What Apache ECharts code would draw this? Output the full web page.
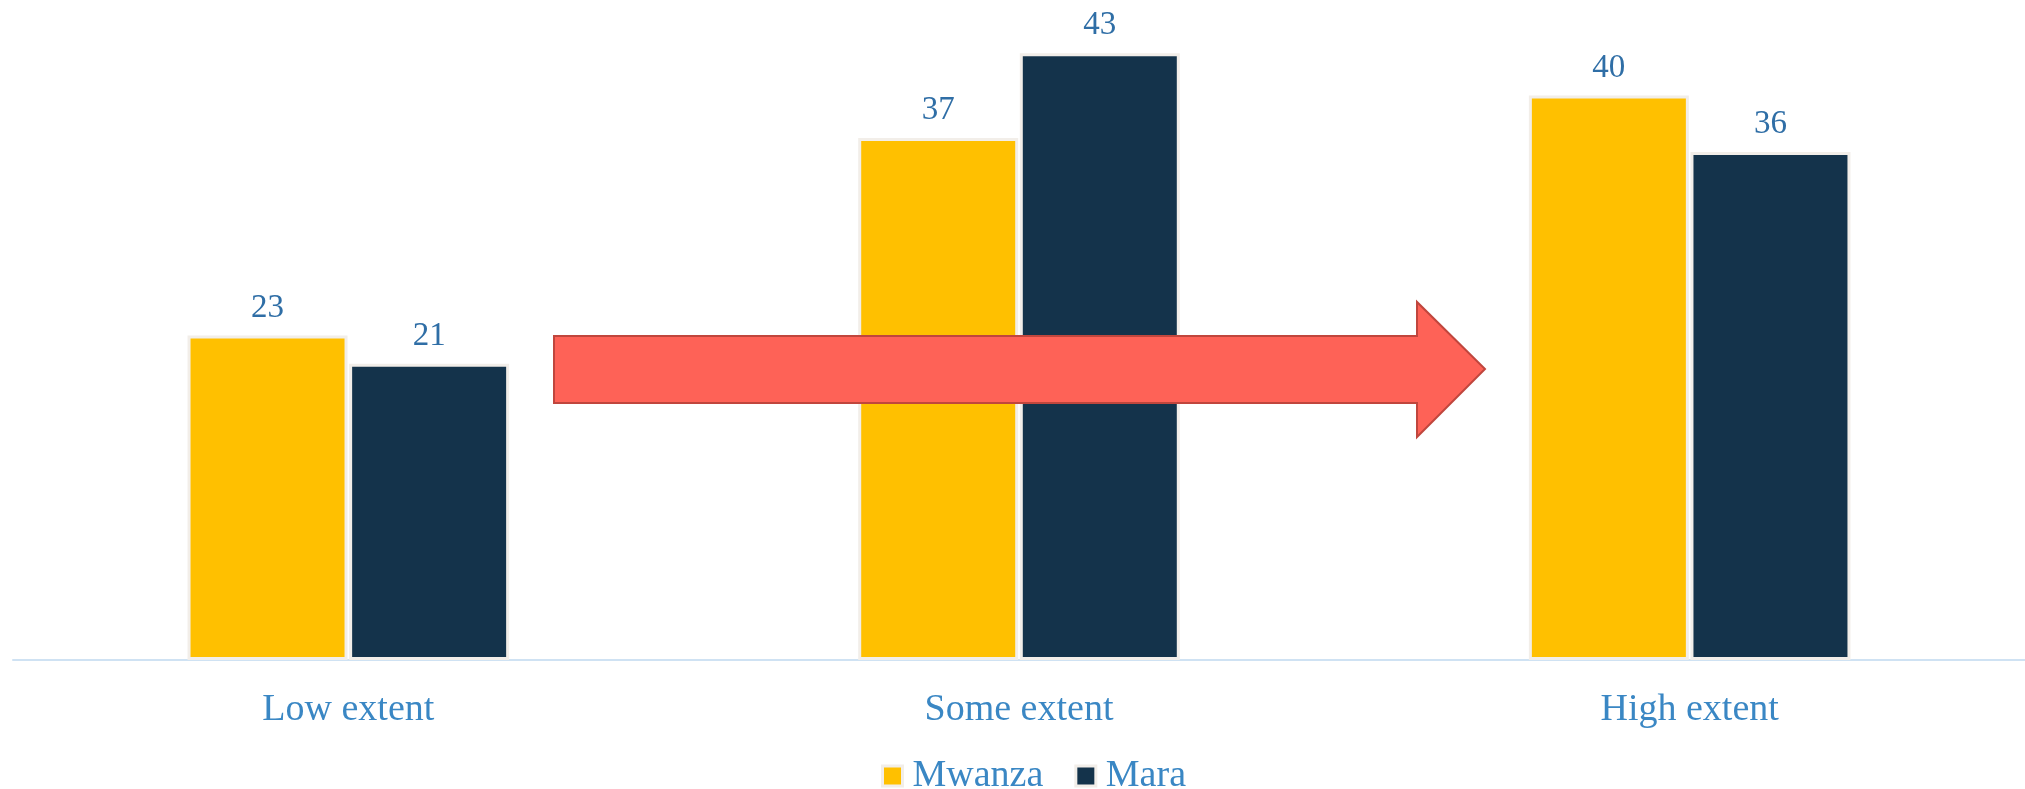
<!DOCTYPE html>
<html>
<head>
<meta charset="utf-8">
<title>Extent by region</title>
<script src="https://cdn.jsdelivr.net/npm/echarts@6/dist/echarts.min.js"></script>
<style>
  html, body { margin: 0; padding: 0; background: #ffffff; }
  #chart { width: 2025px; height: 789px; }
</style>
</head>
<body>
<div id="chart"></div>
<script>
// Categories and series values
const categories = ['Low extent', 'Some extent', 'High extent'];
const mwanza = [23, 37, 40];
const mara = [21, 43, 36];
const seriesNames = ['Mwanza', 'Mara'];

const FONT = '"Liberation Serif", "DejaVu Serif", serif';
const barBorder = '#f2eee9';

const chart = echarts.init(document.getElementById('chart'));

function barSeries(name, values, color) {
  return {
    name: name,
    type: 'bar',
    data: values,
    barWidth: 160,
    barGap: '1%',
    itemStyle: { color: color, borderColor: barBorder, borderWidth: 3 },
    label: {
      show: true,
      position: 'top',
      distance: 11,
      color: '#2f6ea6',
      fontFamily: FONT,
      fontSize: 33
    },
    emphasis: { disabled: true },
    animation: false,
    z: 2
  };
}

chart.setOption({
  backgroundColor: '#ffffff',
  animation: false,
  grid: { left: 13, right: 0, top: 25, bottom: 129 },
  xAxis: {
    type: 'category',
    data: categories,
    axisLine: { show: true, lineStyle: { color: '#cfe2f3', width: 2 } },
    axisTick: { show: false },
    axisLabel: {
      color: '#3a87c4',
      fontFamily: FONT,
      fontSize: 38,
      margin: 31
    }
  },
  yAxis: {
    type: 'value',
    min: 0,
    max: 45,
    show: false,
    splitLine: { show: false }
  },
  legend: {
    data: seriesNames,
    left: 876,
    top: 752,
    itemWidth: 20,
    itemHeight: 20,
    itemGap: 31,
    icon: 'rect',
    itemStyle: { borderColor: barBorder, borderWidth: 3 },
    textStyle: {
      color: '#3a87c4',
      fontFamily: FONT,
      fontSize: 38,
      padding: [0, 0, 0, 5]
    }
  },
  series: [
    barSeries(seriesNames[0], mwanza, '#ffc000'),
    barSeries(seriesNames[1], mara, '#14334b')
  ],
  // Block arrow drawn over the bars, pointing toward the high-extent group
  graphic: [{
    type: 'polygon',
    z: 100,
    shape: {
      points: [
        [554, 336], [1417, 336], [1417, 302], [1485, 369],
        [1417, 437], [1417, 403], [554, 403]
      ]
    },
    style: { fill: '#fe6257', stroke: '#c0463d', lineWidth: 2 }
  }]
});
</script>
</body>
</html>
